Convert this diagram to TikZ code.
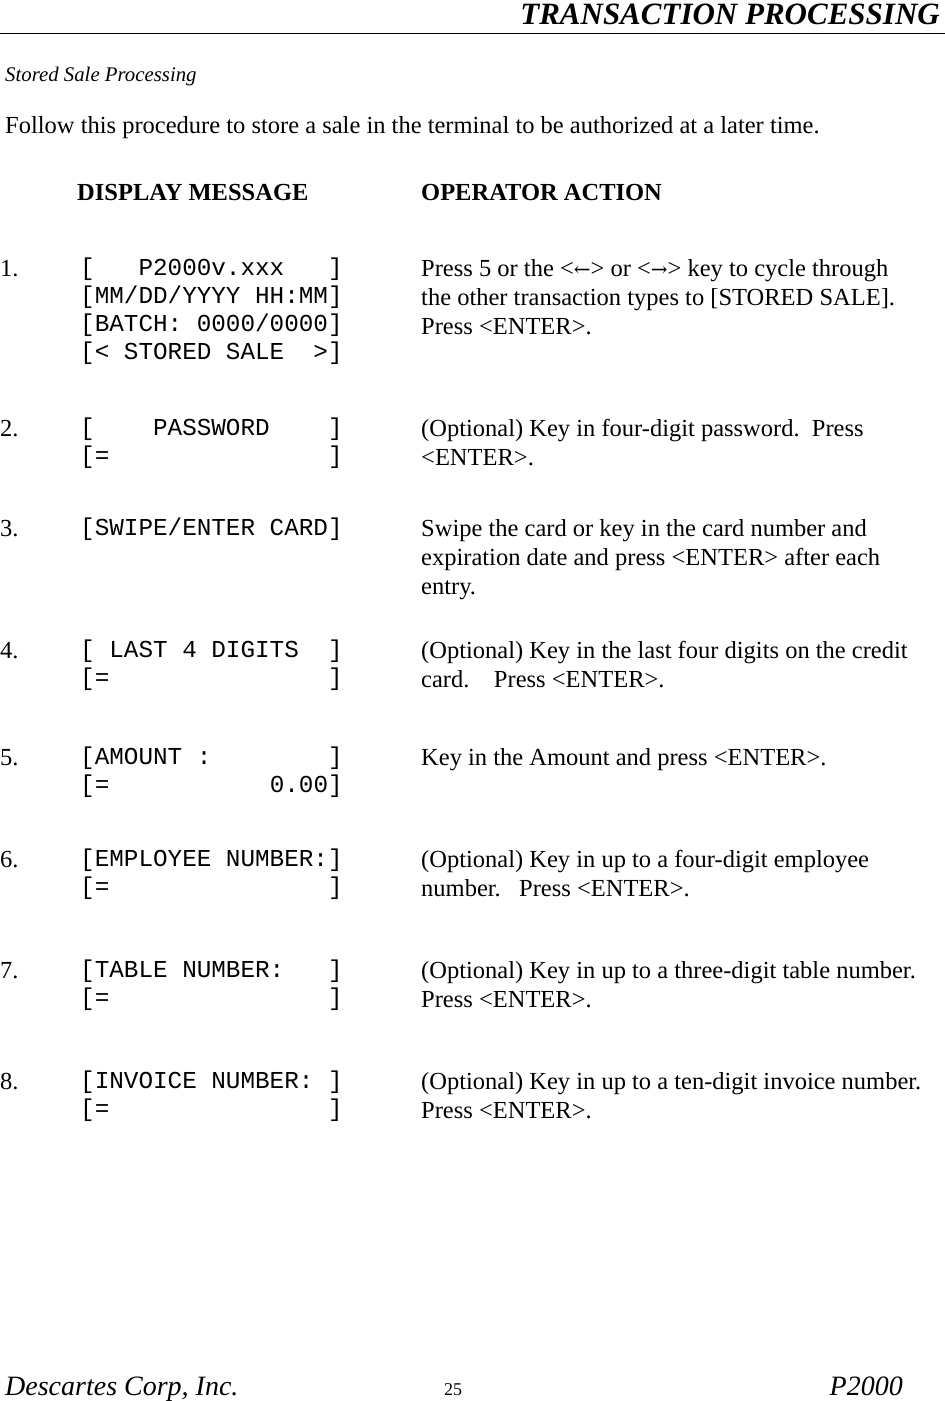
\documentclass[tikz,border=0pt]{standalone}
\usepackage{fontspec}
\setmainfont{Liberation Serif}
\setmonofont{Liberation Mono}
\newfontfamily\arrfont{DejaVu Serif}
\begin{document}
\begin{tikzpicture}[x=1pt,y=-1pt,
 txt/.style={anchor=base west,inner sep=0pt,font=\fontsize{24.5}{29}\selectfont},
 mono/.style={anchor=base west,inner sep=0pt,font=\fontsize{24.3}{28}\ttfamily}]
\useasboundingbox (0,0) rectangle (945,1401);
\node[anchor=base east,inner sep=0pt,font=\fontsize{31}{34}\selectfont\bfseries\itshape] (hd) at (940,24) {TRANSACTION PROCESSING};
\draw[line width=1pt] (0,33) -- (945,33);
\node[anchor=base west,inner sep=0pt,font=\fontsize{20.8}{22}\selectfont\itshape] (sub) at (5,81) {Stored Sale Processing};
\node[txt] (intro) at (5,133) {Follow this procedure to store a sale in the terminal to be authorized at a later time.};
\node[txt,font=\fontsize{24.5}{29}\selectfont\bfseries] (h1) at (77,200) {DISPLAY MESSAGE};
\node[txt,font=\fontsize{24.5}{29}\selectfont\bfseries] (h2) at (421,200) {OPERATOR ACTION};
\newcommand\nl[3]{\node[txt] at (#1,#2) {#3};}
% 1
\nl{0}{276}{1.}
\node[mono] (m1) at (80,275) {[\ \ \ P2000v.xxx\ \ \ ]};
\node[mono] (m2) at (80,303) {[MM/DD/YYYY HH:MM]};
\node[mono] (m3) at (80,331) {[BATCH: 0000/0000]};
\node[mono] (m4) at (80,359) {[<\ STORED SALE\ \ >]};
\nl{421}{276}{Press 5 or the <{\arrfont\fontsize{20}{20}\selectfont←}> or <{\arrfont\fontsize{20}{20}\selectfont→}> key to cycle through}
\nl{421}{305}{the other transaction types to [STORED SALE].}
\nl{421}{334}{Press <ENTER>.}
% 2
\nl{0}{436}{2.}
\node[mono] at (80,435) {[\ \ \ \ PASSWORD\ \ \ \ ]};
\node[mono] at (80,463) {[=\ \ \ \ \ \ \ \ \ \ \ \ \ \ \ ]};
\nl{421}{436}{(Optional) Key in four-digit password.\ \ Press}
\nl{421}{465}{<ENTER>.}
% 3
\nl{0}{536}{3.}
\node[mono] at (80,535) {[SWIPE/ENTER CARD]};
\nl{421}{536}{Swipe the card or key in the card number and}
\nl{421}{565}{expiration date and press <ENTER> after each}
\nl{421}{594}{entry.}
% 4
\nl{0}{658}{4.}
\node[mono] at (80,657) {[ LAST 4 DIGITS\ \ ]};
\node[mono] at (80,685) {[=\ \ \ \ \ \ \ \ \ \ \ \ \ \ \ ]};
\nl{421}{658}{(Optional) Key in the last four digits on the credit}
\nl{421}{687}{card.\ \ \ \ Press <ENTER>.}
% 5
\nl{0}{765}{5.}
\node[mono] at (80,764) {[AMOUNT :\ \ \ \ \ \ \ \ ]};
\node[mono] at (80,792) {[=\ \ \ \ \ \ \ \ \ \ \ 0.00]};
\nl{421}{765}{Key in the Amount and press <ENTER>.}
% 6
\nl{0}{867}{6.}
\node[mono] at (80,866) {[EMPLOYEE NUMBER:]};
\node[mono] at (80,894) {[=\ \ \ \ \ \ \ \ \ \ \ \ \ \ \ ]};
\nl{421}{867}{(Optional) Key in up to a four-digit employee}
\nl{421}{896}{number.\ \ \ Press <ENTER>.}
% 7
\nl{0}{978}{7.}
\node[mono] at (80,977) {[TABLE NUMBER:\ \ \ ]};
\node[mono] at (80,1005) {[=\ \ \ \ \ \ \ \ \ \ \ \ \ \ \ ]};
\nl{421}{978}{(Optional) Key in up to a three-digit table number.}
\nl{421}{1007}{Press <ENTER>.}
% 8
\nl{0}{1089}{8.}
\node[mono] at (80,1088) {[INVOICE NUMBER: ]};
\node[mono] at (80,1116) {[=\ \ \ \ \ \ \ \ \ \ \ \ \ \ \ ]};
\nl{421}{1089}{(Optional) Key in up to a ten-digit invoice number.}
\nl{421}{1118}{Press <ENTER>.}
% footer
\node[anchor=base west,inner sep=0pt,font=\fontsize{28}{30}\selectfont\itshape] (f1) at (5,1395) {Descartes Corp, Inc.};
\node[anchor=base west,inner sep=0pt,font=\fontsize{18}{22}\selectfont] (f2) at (444,1395) {25};
\node[anchor=base east,inner sep=0pt,font=\fontsize{28}{30}\selectfont\itshape] (f3) at (903,1395) {P2000};
\end{tikzpicture}
\end{document}
